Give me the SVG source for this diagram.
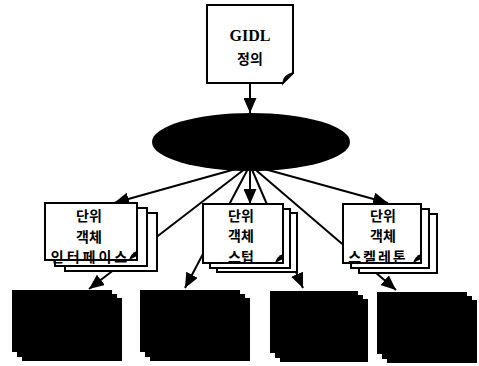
<svg xmlns="http://www.w3.org/2000/svg" width="479" height="366" viewBox="0 0 479 366">
  <defs>
    <marker id="arrow" markerUnits="userSpaceOnUse" markerWidth="15" markerHeight="13" refX="15" refY="6.5" orient="auto">
      <path d="M0,0 L15,6.5 L0,13 Z" fill="#000"/>
    </marker>
    <style>
      .edge { stroke:#000; stroke-width:2; fill:none; }
      .doc { fill:#fff; stroke:#000; stroke-width:2; }
      .blk { fill:#000; }
      .lbl { font-family:"Noto Sans CJK KR","Noto Sans",sans-serif; font-weight:bold; font-size:14px; text-anchor:middle; fill:#000; }
      .gidl { font-family:"Liberation Serif",serif; font-weight:bold; font-size:16px; text-anchor:middle; fill:#000; }
    </style>
  </defs>
  <rect width="479" height="366" fill="#fff"/>

  <!-- connectors (drawn first so stacked documents hide the pass-through parts) -->
  <g id="connectors">
    <path class="edge" d="M250,83 V113" marker-end="url(#arrow)"/>
    <path class="edge" d="M250,165 L114,203" marker-end="url(#arrow)"/>
    <path class="edge" d="M250,165 L89,289" marker-end="url(#arrow)"/>
    <path class="edge" d="M250,165 L185,288" marker-end="url(#arrow)"/>
    <path class="edge" d="M250,165 V204" marker-end="url(#arrow)"/>
    <path class="edge" d="M250,165 L303,288" marker-end="url(#arrow)"/>
    <path class="edge" d="M250,165 L388,203" marker-end="url(#arrow)"/>
    <path class="edge" d="M250,165 L396,290" marker-end="url(#arrow)"/>
  </g>

  <!-- GIDL definition document -->
  <g id="gidl">
    <path class="doc" d="M207,5 H293 V73 L283,83 H207 Z"/>
    <path d="M283,83 Q284,75 293,73 Q286,79 283,83 Z" fill="#000" stroke="#000" stroke-width="1.5"/>
    <text class="gidl" x="250" y="41">GIDL</text>
    <text class="lbl" x="250" y="64">정의</text>
  </g>

  <!-- compiler -->
  <g id="compiler">
    <ellipse cx="251" cy="142" rx="99" ry="29" fill="#000"/>
  </g>

  <!-- interface stack -->
  <g id="interface">
    <rect class="doc" x="65" y="213" width="92" height="58"/>
    <rect class="doc" x="55" y="208" width="92" height="58"/>
    <rect class="doc" x="45" y="203" width="92" height="57"/>
    <path d="M129,260 Q131,253 137,251 L137,256 Z" fill="#000"/>
    <text class="lbl" x="89" y="221">단위</text>
    <text class="lbl" x="89" y="241.5">객체</text>
    <text class="lbl" x="90.5" y="262" letter-spacing="3">인터페이스</text>
  </g>

  <!-- stub stack -->
  <g id="stub">
    <rect class="doc" x="217" y="213" width="80" height="59"/>
    <rect class="doc" x="210" y="209" width="80" height="59"/>
    <rect class="doc" x="203" y="204" width="80" height="59"/>
    <path d="M275,263 Q277,256 283,254 L283,259 Z" fill="#000"/>
    <text class="lbl" x="241" y="220.5">단위</text>
    <text class="lbl" x="241" y="241">객체</text>
    <text class="lbl" x="241" y="261.5">스텁</text>
  </g>

  <!-- skeleton stack -->
  <g id="skeleton">
    <rect class="doc" x="359" y="214" width="78" height="59"/>
    <rect class="doc" x="351" y="209" width="78" height="59"/>
    <rect class="doc" x="343" y="204" width="78" height="59"/>
    <path d="M413,263 Q415,256 421,254 L421,259 Z" fill="#000"/>
    <text class="lbl" x="383" y="220.5">단위</text>
    <text class="lbl" x="383" y="241">객체</text>
    <text class="lbl" x="378" y="261.5" letter-spacing="2">스켈레톤</text>
  </g>

  <!-- generated output stacks -->
  <g id="out1" class="blk">
    <rect x="12" y="290" width="100" height="62"/>
    <rect x="17" y="294" width="100" height="63"/>
    <rect x="22" y="298" width="100" height="63"/>
  </g>
  <g id="out2" class="blk">
    <rect x="140" y="290" width="100" height="62"/>
    <rect x="145" y="294" width="100" height="63"/>
    <rect x="150" y="298" width="100" height="63"/>
  </g>
  <g id="out3" class="blk">
    <rect x="270" y="291" width="88" height="62"/>
    <rect x="275" y="295" width="88" height="63"/>
    <rect x="280" y="299" width="88" height="63"/>
  </g>
  <g id="out4" class="blk">
    <rect x="377" y="292" width="90" height="62"/>
    <rect x="382" y="296" width="90" height="63"/>
    <rect x="387" y="300" width="90" height="63"/>
  </g>
</svg>
